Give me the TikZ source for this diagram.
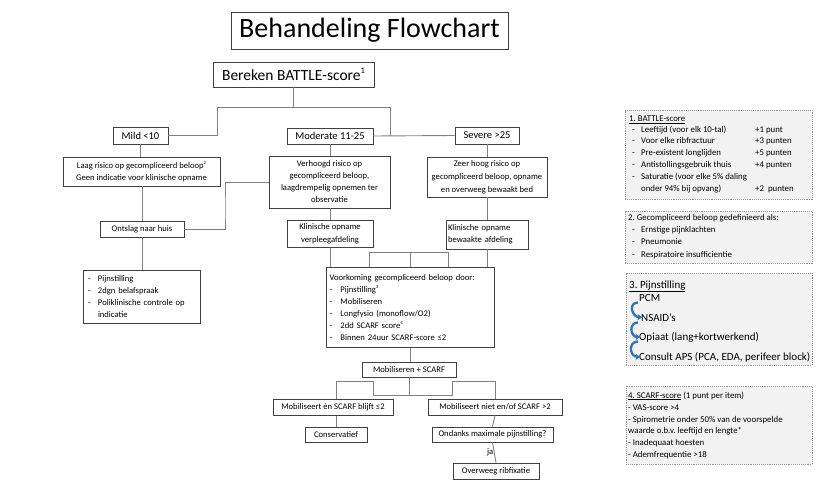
\documentclass[tikz,border=0pt]{standalone}
\usepackage{fontspec}
\setmainfont{Carlito}
\usetikzlibrary{arrows.meta,calc}
\definecolor{boxline}{RGB}{64,64,64}
\definecolor{connc}{RGB}{128,128,128}
\definecolor{notefill}{RGB}{242,242,242}
\definecolor{notebd}{RGB}{150,150,150}
\definecolor{arrblue}{RGB}{46,117,182}
\newcommand{\myfs}[2]{\fontsize{#1}{#2}\selectfont}
\newcommand{\dsh}[1]{\makebox[#1][l]{-}}
\newcommand{\smsup}[1]{\raisebox{0.42em}{\scalebox{0.55}{#1}}}
\begin{document}
\frenchspacing
\begin{tikzpicture}[x=1pt,y=-1pt,
  fbox/.style={draw=boxline, line width=0.9pt, fill=white, inner sep=0pt, align=center, font=\myfs{8.6}{12}},
  conn/.style={draw=connc, line width=0.9pt},
  note/.style={draw=notebd, densely dotted, line width=0.9pt, fill=notefill, inner sep=0pt},
  ntxt/.style={anchor=base west, inner sep=0pt, font=\myfs{8.8}{11}},
  ptxt/.style={anchor=base west, inner sep=0pt, font=\myfs{11}{13}},
  barr/.style={draw=arrblue, line width=2.3pt, -{Stealth[length=4.5pt,width=6.5pt]}},
]
\useasboundingbox (0,0) rectangle (831,487);

% ---------- flowchart boxes ----------
\node[fbox, minimum width=277pt, minimum height=37pt, font=\myfs{28}{32}] (title) at (369.5,30.5) {Behandeling Flowchart};
\node[fbox, minimum width=161pt, minimum height=25pt, font=\myfs{15.5}{18}] (bereken) at (293.5,74.5) {Bereken BATTLE-score\smsup{1}};
\node[fbox, minimum width=55pt, minimum height=17pt, font=\myfs{10.5}{12}] (mild) at (140.5,135.5) {Mild <10};
\node[fbox, minimum width=86pt, minimum height=16pt, font=\myfs{10.5}{12}] (moderate) at (330,136) {Moderate 11-25};
\node[fbox, minimum width=64pt, minimum height=17pt, font=\myfs{10.5}{12}] (severe) at (487,135.5) {Severe >25};
\node[fbox, minimum width=157pt, minimum height=29pt] (laag) at (141.5,171.5) {Laag risico op gecompliceerd beloop\smsup{2}\\Geen indicatie voor klinische opname};
\node[fbox, minimum width=121pt, minimum height=52pt] (verhoogd) at (329.5,182) {Verhoogd risico op\\gecompliceerd beloop,\\laagdrempelig opnemen ter\\observatie};
\node[fbox, minimum width=120pt, minimum height=40pt, font=\myfs{8.6}{13}] (zeer) at (487,177) {Zeer hoog risico op\\gecompliceerd beloop, opname\\en overweeg bewaakt bed};
\node[fbox, minimum width=84pt, minimum height=16pt] (ontslag) at (142,229) {Ontslag naar huis};
\node[fbox, minimum width=86pt, minimum height=27pt, font=\myfs{8.6}{12.5}] (kv) at (330,234) {Klinische opname\\verpleegafdeling};
\node[fbox, minimum width=82pt, minimum height=29pt, align=left, text width=78pt, font=\myfs{8.6}{12.5}] (kb) at (487,234.5) {Klinische opname\\bewaakte afdeling};
\node[fbox, minimum width=117pt, minimum height=53pt, align=left, text width=107pt] (list) at (141.5,296.5) {\dsh{10pt}Pijnstilling\\ \dsh{10pt}2dgn belafspraak\\ \dsh{10pt}Poliklinische controle op\\ \hspace*{10pt}indicatie};
\node[fbox, minimum width=168pt, minimum height=80pt, align=left, text width=161pt] (voork) at (410,307.5) {Voorkoming gecompliceerd beloop door:\\ \dsh{11pt}Pijnstilling\smsup{3}\\ \dsh{11pt}Mobiliseren\\ \dsh{11pt}Longfysio (monoflow/O2)\\ \dsh{11pt}2dd SCARF score\smsup{4}\\ \dsh{11pt}Binnen 24uur SCARF-score ≤2};
\node[fbox, minimum width=94pt, minimum height=15pt] (mob) at (409,369.5) {Mobiliseren + SCARF};
\node[fbox, minimum width=120pt, minimum height=16pt] (mobja) at (333,407.5) {Mobiliseert én SCARF blijft ≤2};
\node[fbox, minimum width=134pt, minimum height=16pt] (mobnee) at (495,407) {Mobiliseert niet en/of SCARF >2};
\node[fbox, minimum width=62pt, minimum height=15pt] (cons) at (336,434.5) {Conservatief};
\node[fbox, minimum width=121pt, minimum height=15pt] (ondanks) at (492.5,434.5) {Ondanks maximale pijnstilling?};
\node[fbox, minimum width=86pt, minimum height=16pt] (overweeg) at (496,471) {Overweeg ribfixatie};

% ---------- junction coordinates ----------
\coordinate (jl) at (217,107);
\coordinate (jr) at (390,107);
\coordinate (vo) at (225,210);
\coordinate (ba) at (369,252);
\coordinate (bb) at (448,252);
\coordinate (m1) at (373,395);
\coordinate (m2) at (336,381);
\coordinate (m3) at (452,395);
\coordinate (m4) at (495,381);

% ---------- connectors ----------
\draw[conn] (bereken.south) -- (bereken.south |- jl);
\draw[conn] (mild.east) -| (jl) -- (jr) -- (jr |- moderate.east);
\draw[conn] (moderate.east) -- (severe.west);
\draw[conn] (mild.south) -- (mild.south |- laag.north);
\draw[conn] (laag.south -| ontslag.north) -- (ontslag.north);
\draw[conn] (ontslag.south) -- (ontslag.south |- list.north);
\draw[conn] (verhoogd.west) -| (vo) |- (ontslag.east);
\draw[conn] (moderate.south) -- (moderate.south |- verhoogd.north);
\draw[conn] (verhoogd.south -| kv.north) -- (kv.north);
\draw[conn] (severe.south) -- (severe.south |- zeer.north);
\draw[conn] (zeer.south) -- (zeer.south |- kb.north);
\draw[conn] (kv.south) -- (kv.south |- voork.north);
\draw[conn] (kb.south) -- (kb.south |- voork.north);
\draw[conn] (ba |- voork.north) -- (ba) -- (bb) -- (bb |- voork.north);
\draw[conn] (voork.north) -- (voork.north |- ba);
\draw[conn] (voork.south) -- (voork.south |- mob.north);
\draw[conn] (mob.south) -- (mob.south |- m1) -- (m1) -- (m1 |- m2) -- (m2) -- (m2 |- mobja.north);
\draw[conn] (mob.south |- m3) -- (m3) -- (m3 |- m4) -- (m4) -- (m4 |- mobnee.north);
\draw[conn] (cons.north |- mobja.south) -- (cons.north);
\draw[conn] (mobnee.south) -- (ondanks.north);
\draw[conn] (ondanks.south) -- node[pos=0.5, xshift=-4pt, inner sep=0pt, text=black, font=\myfs{8.6}{10}] (ja) {ja} (overweeg.north);

% ---------- note 1 ----------
\node[note, minimum width=187pt, minimum height=89pt] (n1) at (718.5,154.5) {};
\node[ntxt] (n1t) at (629,121.3) {\underline{1. BATTLE-score}};
\node[ntxt] (n1a) at (632,132.5) {\dsh{9pt}Leeftijd (voor elk 10-tal)};
\node[ntxt] (n1b) at (632,143.8) {\dsh{9pt}Voor elke ribfractuur};
\node[ntxt] (n1c) at (632,155.7) {\dsh{9pt}Pre-existent longlijden};
\node[ntxt] (n1d) at (632,167.1) {\dsh{9pt}Antistollingsgebruik thuis};
\node[ntxt] (n1e) at (632,179.5) {\dsh{9pt}Saturatie (voor elke 5\% daling};
\node[ntxt] (n1f) at (641,191.3) {onder 94\% bij opvang)};
\node[ntxt] (n1ap) at (755,132.5) {+1 punt};
\node[ntxt] (n1bp) at (755,143.8) {+3 punten};
\node[ntxt] (n1cp) at (755,155.7) {+5 punten};
\node[ntxt] (n1dp) at (755,167.1) {+4 punten};
\node[ntxt] (n1fp) at (755,191.3) {+2~~punten};

% ---------- note 2 ----------
\node[note, minimum width=187pt, minimum height=52pt] (n2) at (718.5,237) {};
\node[ntxt] (n2t) at (628,220.5) {2. Gecompliceerd beloop gedefinieerd als:};
\node[ntxt] (n2a) at (632,232.5) {\dsh{9pt}Ernstige pijnklachten};
\node[ntxt] (n2b) at (632,244.7) {\dsh{9pt}Pneumonie};
\node[ntxt] (n2c) at (632,257) {\dsh{9pt}Respiratoire insufficientie};

% ---------- note 3 ----------
\node[note, minimum width=186pt, minimum height=92pt] (n3) at (719,319) {};
\node[ptxt] (n3t) at (629,288) {\underline{3. Pijnstilling}};
\node[ptxt] (pcm) at (639,301) {PCM};
\node[ptxt] (nsaid) at (641,321) {NSAID’s};
\node[ptxt] (opiaat) at (639,340) {Opiaat (lang+kortwerkend)};
\node[ptxt] (consult) at (639,360) {Consult APS (PCA, EDA, perifeer block)};
\draw[barr] ([shift={(-1pt,-1.5pt)}]pcm.base west) to[out=180,in=180,looseness=1.7] ([xshift=1pt]nsaid.west);
\draw[barr] ([shift={(-3pt,-1.5pt)}]nsaid.base west) to[out=180,in=180,looseness=1.7] ([xshift=1pt]opiaat.west);
\draw[barr] ([shift={(-1pt,-1.5pt)}]opiaat.base west) to[out=180,in=180,looseness=1.7] ([xshift=1pt]consult.west);

% ---------- note 4 ----------
\node[note, minimum width=186pt, minimum height=78pt] (n4) at (719,425) {};
\node[ntxt] (n4t) at (628,398) {\underline{4. SCARF-score} (1 punt per item)};
\node[ntxt] (n4a) at (628,410) {- VAS-score >4};
\node[ntxt] (n4b) at (628,422) {- Spirometrie onder 50\% van de voorspelde};
\node[ntxt] (n4c) at (628,433.5) {waarde o.b.v. leeftijd en lengte*};
\node[ntxt] (n4d) at (628,445.5) {- Inadequaat hoesten};
\node[ntxt] (n4e) at (628,457.5) {- Ademfrequentie >18};
\end{tikzpicture}
\end{document}
